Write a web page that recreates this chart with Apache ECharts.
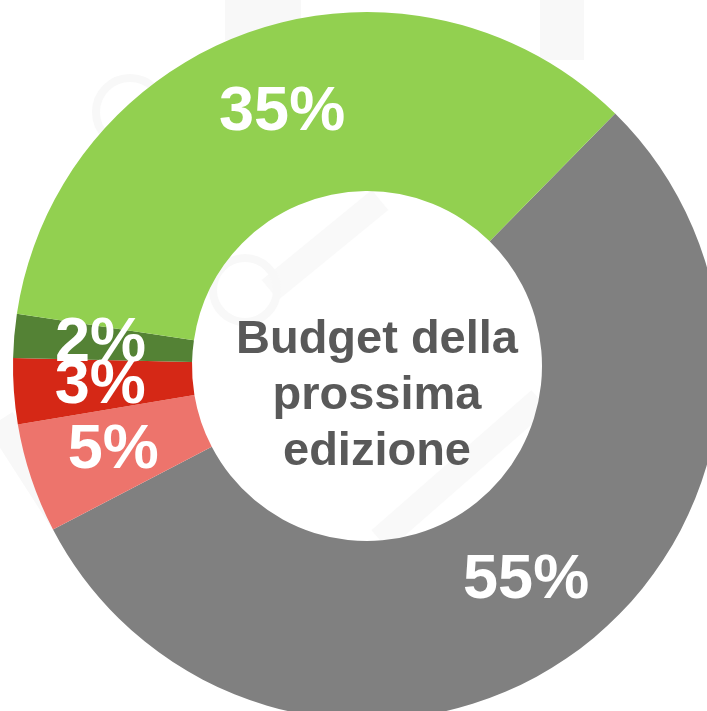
<!DOCTYPE html>
<html>
<head>
<meta charset="utf-8">
<script src="https://cdn.jsdelivr.net/npm/echarts@6/dist/echarts.min.js"></script>
<style>
  html, body { margin: 0; padding: 0; background: #fff; }
  #main { width: 707px; height: 711px; }
</style>
</head>
<body>
<div id="main"></div>
<script>
// quote di budget, in senso orario a partire dal grigio
const quote = [55, 5, 3, 2, 35];
const colori = ['#808080', '#ED746C', '#D52816', '#548235', '#92D050'];
const titolo = ['Budget della', 'prossima', 'edizione'];

const chart = echarts.init(document.getElementById('main'), null, { renderer: 'canvas' });

const data = quote.map((v, i) => {
  return { value: v, itemStyle: { color: colori[i] } };
});

const option = {
  backgroundColor: '#fff',
  animation: false,
  // filigrana chiara sullo sfondo
  graphic: [
    { type: 'rect', z: -10, shape: { x: 540, y: 0, width: 44, height: 60 }, style: { fill: '#f8f8f8' } },
    { type: 'rect', z: -10, shape: { x: 225, y: 0, width: 76, height: 40 }, style: { fill: '#f8f8f8' } },
    { type: 'circle', z: -10, shape: { cx: 130, cy: 112, r: 34 }, style: { fill: 'none', stroke: '#f8f8f8', lineWidth: 8 } },
    { type: 'line', z: -10, shape: { x1: 0, y1: 420, x2: 90, y2: 560 }, style: { stroke: '#f8f8f8', lineWidth: 30 } },
    { type: 'line', z: -10, shape: { x1: 270, y1: 290, x2: 380, y2: 200 }, style: { stroke: '#f9f9f9', lineWidth: 26 } },
    { type: 'line', z: -10, shape: { x1: 380, y1: 540, x2: 540, y2: 400 }, style: { stroke: '#f9f9f9', lineWidth: 26 } },
    { type: 'circle', z: -10, shape: { cx: 245, cy: 290, r: 32 }, style: { fill: 'none', stroke: '#f8f8f8', lineWidth: 8 } },
    {
      type: 'text',
      z: 100,
      x: 377,
      y: 396,
      style: {
        text: titolo.join('\n'),
        fill: '#595959',
        font: 'bold 47px "Liberation Sans", Arial, sans-serif',
        lineHeight: 56,
        align: 'center',
        verticalAlign: 'middle'
      }
    }
  ],
  series: [{
    type: 'pie',
    center: [367, 366],
    radius: [175, 354],
    startAngle: 45.5,
    clockwise: true,
    silent: true,
    avoidLabelOverlap: false,
    labelLayout: { hideOverlap: false },
    label: {
      show: true,
      position: 'inside',
      formatter: '{c}%',
      color: '#fff',
      fontSize: 63,
      fontWeight: 'bold',
      fontFamily: '"Liberation Sans", Arial, sans-serif'
    },
    labelLine: { show: false },
    itemStyle: { borderWidth: 0 },
    emphasis: { disabled: true },
    data
  }]
};

chart.setOption(option);
</script>
</body>
</html>
